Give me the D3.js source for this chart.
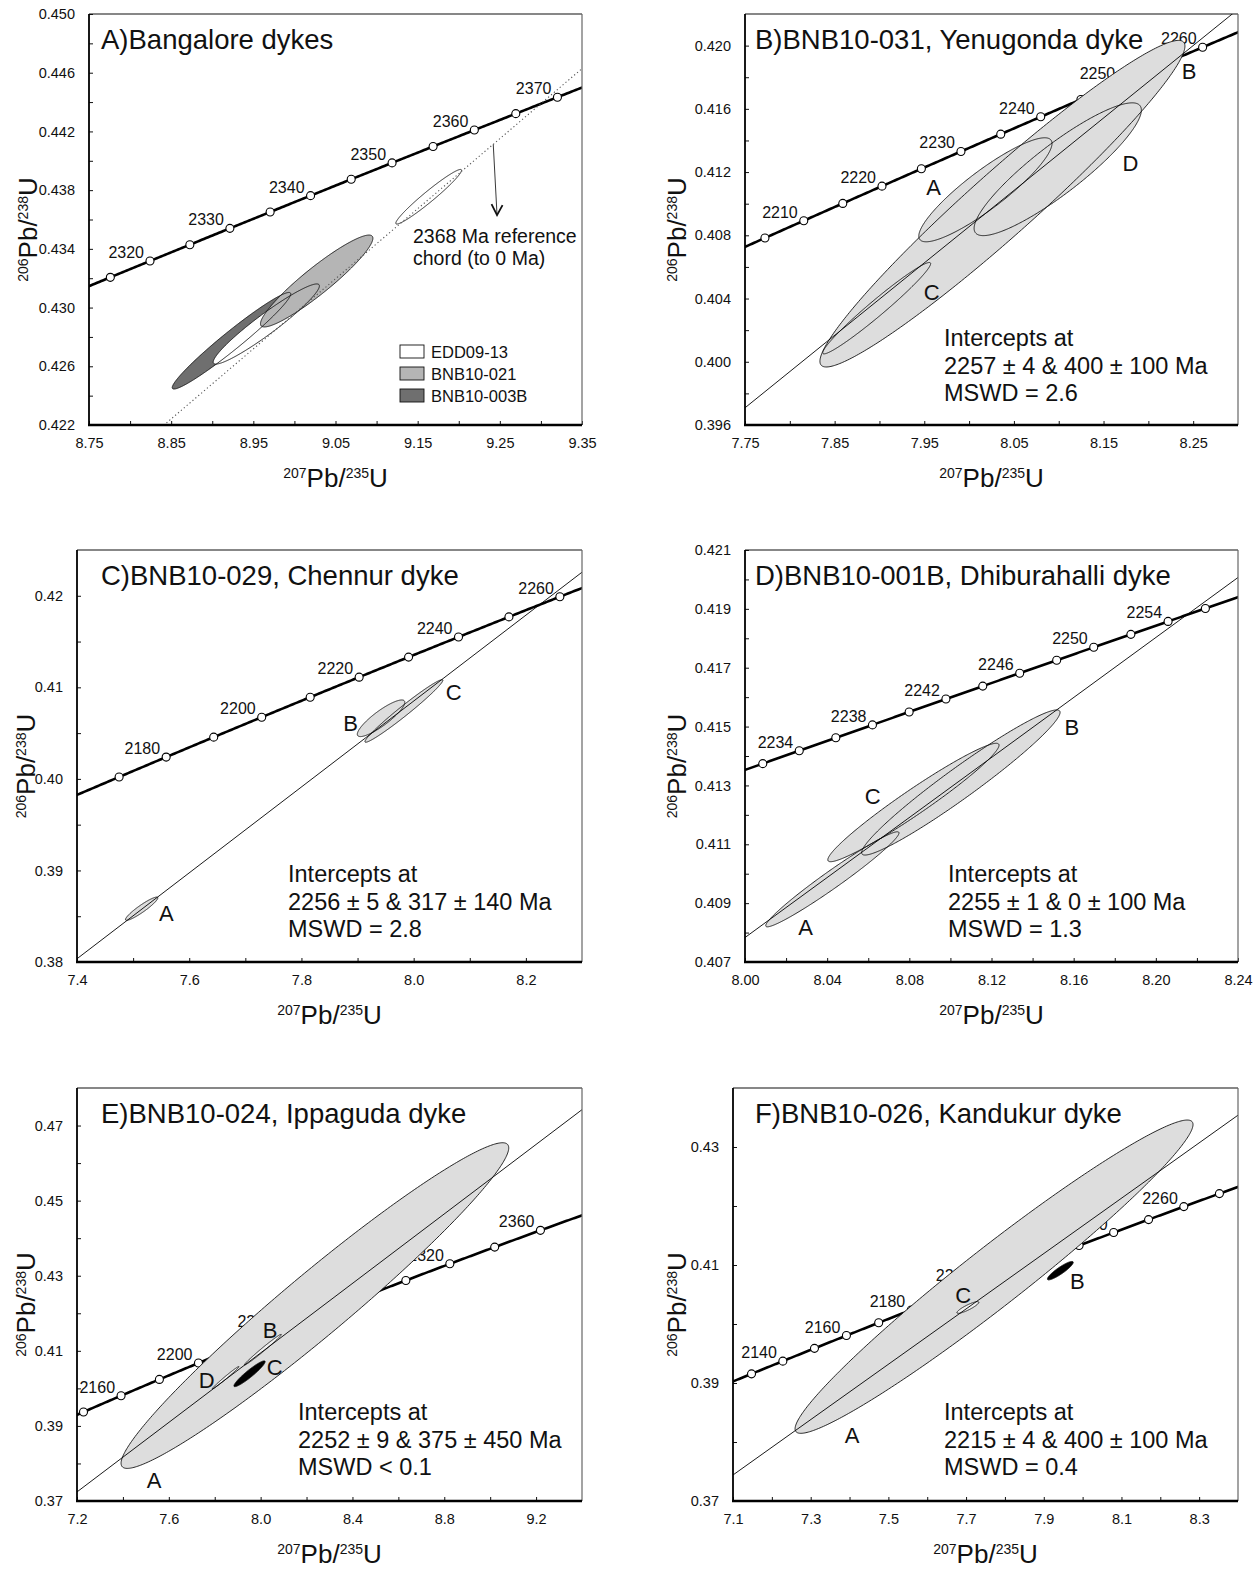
<!DOCTYPE html>
<html>
<head>
<meta charset="utf-8">
<script src="https://cdn.jsdelivr.net/npm/d3@7"></script>
<style>
body { margin: 0; background: #fff; }
svg text { font-family: "Liberation Sans", Arial, Helvetica, sans-serif; fill: #111; }
</style>
</head>
<body>
<svg id="fig" width="1260" height="1571"></svg>
<script>
// decay constants (1/yr) - define the concordia reference curve
var lambda235 = 9.8485e-10, lambda238 = 1.55125e-10;

var titles = ["A)Bangalore dykes", "B)BNB10-031, Yenugonda dyke", "C)BNB10-029, Chennur dyke",
              "D)BNB10-001B, Dhiburahalli dyke", "E)BNB10-024, Ippaguda dyke", "F)BNB10-026, Kandukur dyke"];

var xDomains = [[8.75, 9.35], [7.75, 8.30], [7.4, 8.3], [8.00, 8.24], [7.2, 9.4], [7.1, 8.4]];
var yDomains = [[0.422, 0.450], [0.396, 0.422], [0.38, 0.425], [0.407, 0.421], [0.37, 0.48], [0.37, 0.44]];

var xTicks = [
  [8.75, 8.85, 8.95, 9.05, 9.15, 9.25, 9.35],
  [7.75, 7.85, 7.95, 8.05, 8.15, 8.25],
  [7.4, 7.6, 7.8, 8.0, 8.2],
  [8.00, 8.04, 8.08, 8.12, 8.16, 8.20, 8.24],
  [7.2, 7.6, 8.0, 8.4, 8.8, 9.2],
  [7.1, 7.3, 7.5, 7.7, 7.9, 8.1, 8.3]
];
var yTicks = [
  [0.422, 0.426, 0.430, 0.434, 0.438, 0.442, 0.446, 0.450],
  [0.396, 0.400, 0.404, 0.408, 0.412, 0.416, 0.420],
  [0.38, 0.39, 0.40, 0.41, 0.42],
  [0.407, 0.409, 0.411, 0.413, 0.415, 0.417, 0.419, 0.421],
  [0.37, 0.39, 0.41, 0.43, 0.45, 0.47],
  [0.37, 0.39, 0.41, 0.43]
];
var xDecimals = [2, 2, 1, 2, 1, 1];
var yDecimals = [3, 3, 2, 3, 2, 2];

// concordia age marks (Ma)
var markAges = [
  [2315, 2320, 2325, 2330, 2335, 2340, 2345, 2350, 2355, 2360, 2365, 2370],
  [2205, 2210, 2215, 2220, 2225, 2230, 2235, 2240, 2245, 2250, 2255, 2260],
  [2170, 2180, 2190, 2200, 2210, 2220, 2230, 2240, 2250, 2260],
  [2232, 2234, 2236, 2238, 2240, 2242, 2244, 2246, 2248, 2250, 2252, 2254, 2256],
  [2140, 2160, 2180, 2200, 2220, 2240, 2260, 2280, 2300, 2320, 2340, 2360],
  [2130, 2140, 2150, 2160, 2170, 2180, 2190, 2200, 2210, 2220, 2230, 2240, 2250, 2260, 2270]
];
var labelAges = [
  [2320, 2330, 2340, 2350, 2360, 2370],
  [2210, 2220, 2230, 2240, 2250, 2260],
  [2180, 2200, 2220, 2240, 2260],
  [2234, 2238, 2242, 2246, 2250, 2254],
  [2160, 2200, 2240, 2280, 2320, 2360],
  [2140, 2160, 2180, 2200, 2220, 2240, 2260]
];

// discordia intercepts (Ma): upper, lower
var chordAges = [[2368, 0], [2257, 400], [2256, 317], [2255, 0], [2252, 375], [2215, 400]];

var interceptText = [
  null,
  ["Intercepts at", "2257 \u00b1 4 & 400 \u00b1 100 Ma", "MSWD = 2.6"],
  ["Intercepts at", "2256 \u00b1 5 & 317 \u00b1 140 Ma", "MSWD = 2.8"],
  ["Intercepts at", "2255 \u00b1 1 & 0 \u00b1 100 Ma", "MSWD = 1.3"],
  ["Intercepts at", "2252 \u00b1 9 & 375 \u00b1 450 Ma", "MSWD < 0.1"],
  ["Intercepts at", "2215 \u00b1 4 & 400 \u00b1 100 Ma", "MSWD = 0.4"]
];

// error ellipses: centre, half extents, correlation
var ellipsesA = [
  {name: "BNB10-003B", x: 8.9234, y: 0.42774, sx: 0.0721, sy: 0.00329, rho: 0.97},
  {name: "EDD09-13",   x: 8.9658, y: 0.42888, sx: 0.0646, sy: 0.00273, rho: 0.95},
  {name: "BNB10-021",  x: 9.0271, y: 0.43181, sx: 0.0684, sy: 0.00313, rho: 0.93},
  {name: "EDD09-13",   x: 9.1634, y: 0.43755, sx: 0.0400, sy: 0.00186, rho: 0.968}
];
var ellipsesB = [
  {name: "B", x: 8.0372, y: 0.41000, sx: 0.2036, sy: 0.01033, rho: 0.965},
  {name: "D", x: 8.0989, y: 0.41218, sx: 0.0933, sy: 0.00420, rho: 0.89},
  {name: "A", x: 8.0182, y: 0.41088, sx: 0.0743, sy: 0.00329, rho: 0.89},
  {name: "C", x: 7.8969, y: 0.40339, sx: 0.0602, sy: 0.00289, rho: 0.975}
];
var ellipsesC = [
  {name: "A", x: 7.5152, y: 0.38582, sx: 0.0288, sy: 0.00127, rho: 0.93},
  {name: "B", x: 7.9419, y: 0.40662, sx: 0.0423, sy: 0.00200, rho: 0.87},
  {name: "C", x: 7.9826, y: 0.40742, sx: 0.0694, sy: 0.00342, rho: 0.98}
];
var ellipsesD = [
  {name: "A", x: 8.04253, y: 0.40981, sx: 0.03243, sy: 0.001615, rho: 0.975},
  {name: "B", x: 8.10508, y: 0.41310, sx: 0.04830, sy: 0.002466, rho: 0.966},
  {name: "C", x: 8.08199, y: 0.41242, sx: 0.04167, sy: 0.002012, rho: 0.967}
];
var ellipsesE = [
  {name: "A", x: 8.2364, y: 0.42205, sx: 0.8444, sy: 0.04337, rho: 0.968},
  {name: "B", x: 8.0096, y: 0.41030, sx: 0.0803, sy: 0.00409, rho: 0.99},
  {name: "D", x: 7.8473, y: 0.40283, sx: 0.0579, sy: 0.00298, rho: 0.99},
  {name: "C", x: 7.9516, y: 0.40389, sx: 0.0679, sy: 0.00343, rho: 0.94}
];
var ellipsesF = [
  {name: "A", x: 7.7720, y: 0.40802, sx: 0.5122, sy: 0.02655, rho: 0.971},
  {name: "C", x: 7.7046, y: 0.40280, sx: 0.0281, sy: 0.00099, rho: 0.88},
  {name: "B", x: 7.9426, y: 0.40904, sx: 0.0332, sy: 0.00156, rho: 0.90}
];
var ellipses = [ellipsesA, ellipsesB, ellipsesC, ellipsesD, ellipsesE, ellipsesF];

var legendNames = ["EDD09-13", "BNB10-021", "BNB10-003B"];

// ---- layout / style ----
var boxes = [ // plot area [left, top, right, bottom]
  [89, 14, 582, 425], [745, 14, 1238, 425],
  [77, 550, 582, 962], [745, 550, 1238, 962],
  [77, 1088, 582, 1501], [733, 1088, 1238, 1501]
];
var yLabelX = [37, 686, 35, 686, 35, 686];
var titleX = [101, 755, 101, 755, 101, 755];
var interceptX = [0, 944, 288, 948, 298, 944];

var sampleFill = {"EDD09-13": "#ffffff", "BNB10-021": "#b5b5b5", "BNB10-003B": "#6f6f6f"};
var fillOverride = {4: {C: "#000", B: "#f0f0f0", D: "#f0f0f0"}, 5: {B: "#000", C: "#f0f0f0"}};

// letter labels next to ellipses (data coords)
var ellipseLabels = [
  [],
  [["A", 7.9604, 0.41102], ["B", 8.2454, 0.41838], ["C", 7.9582, 0.40440], ["D", 8.1801, 0.41260]],
  [["A", 7.5592, 0.38535], ["B", 7.8877, 0.40607], ["C", 8.0713, 0.40946]],
  [["A", 8.02945, 0.40819], ["B", 8.15916, 0.41499], ["C", 8.06217, 0.41265]],
  [["A", 7.5361, 0.37569], ["B", 8.0410, 0.41555], ["C", 8.0609, 0.40576], ["D", 7.7646, 0.40221]],
  [["A", 7.4064, 0.38116], ["B", 7.9865, 0.40722], ["C", 7.6923, 0.40496]]
];

var svg = d3.select("#fig");

function concordia(t) {
  var yr = t * 1e6;
  return [Math.exp(lambda235 * yr) - 1, Math.exp(lambda238 * yr) - 1];
}

function ellipsePath(e, x, y) {
  var r2 = Math.sqrt(1 - e.rho * e.rho);
  var pts = d3.range(0, 360, 1).map(function(a) {
    var t = a * Math.PI / 180;
    return [x(e.x + e.sx * Math.cos(t)), y(e.y + e.sy * (e.rho * Math.cos(t) + r2 * Math.sin(t)))];
  });
  return d3.line().curve(d3.curveLinearClosed)(pts);
}

function minors(ticks, dom) {
  var out = [], step = ticks[1] - ticks[0];
  for (var k = 0; k < ticks.length; k++) {
    var m = ticks[k] + step / 2;
    if (m < dom[1] - step * 0.01) out.push(m);
  }
  return out;
}

function isoLabel(sel, a, b) {
  sel.append("tspan").attr("font-size", 14).attr("dy", -9).text(a);
  sel.append("tspan").attr("font-size", 26).attr("dy", 9).text("Pb/");
  sel.append("tspan").attr("font-size", 14).attr("dy", -9).text(b);
  sel.append("tspan").attr("font-size", 26).attr("dy", 9).text("U");
}

for (var i = 0; i < 6; i++) drawPanel(i);

function drawPanel(i) {
  var b = boxes[i];
  var x = d3.scaleLinear().domain(xDomains[i]).range([b[0], b[2]]);
  var y = d3.scaleLinear().domain(yDomains[i]).range([b[3], b[1]]);
  var g = svg.append("g");

  g.append("clipPath").attr("id", "clip" + i)
    .append("rect").attr("x", b[0]).attr("y", b[1]).attr("width", b[2] - b[0]).attr("height", b[3] - b[1]);
  var plot = g.append("g").attr("clip-path", "url(#clip" + i + ")");

  // concordia curve
  var t0 = Math.log(1 + xDomains[i][0]) / lambda235 / 1e6 - 10;
  var t1 = Math.log(1 + xDomains[i][1]) / lambda235 / 1e6 + 10;
  var curve = d3.range(0, 301).map(function(k) { return concordia(t0 + (t1 - t0) * k / 300); });
  plot.append("path").datum(curve)
    .attr("d", d3.line().x(function(d) { return x(d[0]); }).y(function(d) { return y(d[1]); }))
    .attr("fill", "none").attr("stroke", "#000").attr("stroke-width", 2.6);

  plot.selectAll(".mark").data(markAges[i]).enter().append("circle")
    .attr("class", "mark")
    .attr("cx", function(d) { return x(concordia(d)[0]); })
    .attr("cy", function(d) { return y(concordia(d)[1]); })
    .attr("r", 4).attr("fill", "#fff").attr("stroke", "#000").attr("stroke-width", 1.1);

  g.selectAll(".age").data(labelAges[i]).enter().append("text")
    .attr("class", "age")
    .attr("x", function(d) { return x(concordia(d)[0]) - 6; })
    .attr("y", function(d) { return y(concordia(d)[1]) - 3; })
    .attr("text-anchor", "end").attr("font-size", 16)
    .text(function(d) { return d; });

  // ellipses: fills, then outlines
  var eg = g.append("g").attr("clip-path", "url(#clip" + i + ")");
  var ov = fillOverride[i] || {};
  eg.selectAll(".ef").data(ellipses[i]).enter().append("path")
    .attr("d", function(e) { return ellipsePath(e, x, y); })
    .attr("fill", function(e) {
      if (i === 0) return sampleFill[e.name];
      return ov[e.name] || "#dddddd";
    })
    .attr("stroke", "none");
  eg.selectAll(".eo").data(ellipses[i]).enter().append("path")
    .attr("d", function(e) { return ellipsePath(e, x, y); })
    .attr("fill", "none").attr("stroke", "#111").attr("stroke-width", 0.9);

  // chord
  var up = concordia(chordAges[i][0]), lo = concordia(chordAges[i][1]);
  var slope = (up[1] - lo[1]) / (up[0] - lo[0]);
  var cl = [xDomains[i][0] - 0.05, xDomains[i][1] + 0.05].map(function(v) { return [v, up[1] + slope * (v - up[0])]; });
  eg.append("line")
    .attr("x1", x(cl[0][0])).attr("y1", y(cl[0][1]))
    .attr("x2", x(cl[1][0])).attr("y2", y(cl[1][1]))
    .attr("stroke", i === 0 ? "#555" : "#000")
    .attr("stroke-width", i === 0 ? 1.1 : 0.9)
    .attr("stroke-dasharray", i === 0 ? "1.2,2.6" : null);

  // ellipse letters
  g.selectAll(".el").data(ellipseLabels[i]).enter().append("text")
    .attr("x", function(d) { return x(d[1]); })
    .attr("y", function(d) { return y(d[2]); })
    .attr("dy", "0.36em").attr("text-anchor", "middle").attr("font-size", 22)
    .text(function(d) { return d[0]; });

  // axes (ticks point inward)
  var fx = d3.format("." + xDecimals[i] + "f"), fy = d3.format("." + yDecimals[i] + "f");
  g.append("g").attr("transform", "translate(0," + b[3] + ")")
    .call(d3.axisBottom(x).tickValues(xTicks[i]).tickFormat(fx).tickSizeInner(-4).tickSizeOuter(0).tickPadding(13));
  g.append("g").attr("transform", "translate(0," + b[3] + ")")
    .call(d3.axisBottom(x).tickValues(minors(xTicks[i], xDomains[i])).tickFormat("").tickSizeInner(-4).tickSizeOuter(0));
  g.append("g").attr("transform", "translate(" + b[0] + ",0)")
    .call(d3.axisLeft(y).tickValues(yTicks[i]).tickFormat(fy).tickSizeInner(-4).tickSizeOuter(0).tickPadding(14));
  g.append("g").attr("transform", "translate(" + b[0] + ",0)")
    .call(d3.axisLeft(y).tickValues(minors(yTicks[i], yDomains[i])).tickFormat("").tickSizeInner(-4).tickSizeOuter(0));
  g.selectAll(".domain").remove();
  g.selectAll(".tick line").attr("stroke", "#111").attr("stroke-width", 1);
  g.selectAll(".tick text").attr("font-size", 14.5).attr("font-family", null).attr("fill", "#111");

  // frame
  g.append("line").attr("x1", b[0]).attr("x2", b[2]).attr("y1", b[1]).attr("y2", b[1]).attr("stroke", "#111").attr("stroke-width", 1.2);
  g.append("line").attr("x1", b[2]).attr("x2", b[2]).attr("y1", b[1]).attr("y2", b[3]).attr("stroke", "#666").attr("stroke-width", 1.2);
  g.append("line").attr("x1", b[0]).attr("x2", b[0]).attr("y1", b[1]).attr("y2", b[3] + 1).attr("stroke", "#000").attr("stroke-width", 1.8);
  g.append("line").attr("x1", b[0] - 1).attr("x2", b[2]).attr("y1", b[3]).attr("y2", b[3]).attr("stroke", "#000").attr("stroke-width", 2.4);

  // titles and axis labels
  g.append("text").attr("x", titleX[i]).attr("y", b[1] + 35).attr("font-size", 27.5).text(titles[i]);
  isoLabel(g.append("text").attr("text-anchor", "middle")
    .attr("transform", "translate(" + yLabelX[i] + "," + ((b[1] + b[3]) / 2 + 10) + ") rotate(-90)"), "206", "238");
  isoLabel(g.append("text").attr("text-anchor", "middle")
    .attr("x", (b[0] + b[2]) / 2).attr("y", b[3] + 62), "207", "235");

  if (interceptText[i]) {
    g.selectAll(".ic").data(interceptText[i]).enter().append("text")
      .attr("x", interceptX[i])
      .attr("y", function(d, k) { return b[1] + 332 + k * 27.5; })
      .attr("font-size", 23.5).text(function(d) { return d; });
  }

  if (i === 0) {
    // arrow from the reference chord and its note
    var ax0 = 9.242, ax1 = 9.2466, ay1 = 0.4363;
    var sx0 = x(ax0), sy0 = y(slope * ax0), ex = x(ax1), ey = y(ay1);
    g.append("line").attr("x1", sx0).attr("y1", sy0).attr("x2", ex).attr("y2", ey)
      .attr("stroke", "#222").attr("stroke-width", 0.9);
    g.append("path").attr("d", "M" + (ex - 5.5) + "," + (ey - 11) + "L" + ex + "," + ey + "L" + (ex + 5.5) + "," + (ey - 10))
      .attr("fill", "none").attr("stroke", "#111").attr("stroke-width", 1.8);
    g.append("text").attr("x", 413).attr("y", 243).attr("font-size", 19.5).text("2368 Ma reference");
    g.append("text").attr("x", 413).attr("y", 265).attr("font-size", 19.5).text("chord (to 0 Ma)");

    var lg = g.append("g");
    legendNames.forEach(function(n, k) {
      lg.append("rect").attr("x", 400).attr("y", 345 + k * 22).attr("width", 24).attr("height", 13)
        .attr("fill", sampleFill[n]).attr("stroke", "#111").attr("stroke-width", 0.9);
      lg.append("text").attr("x", 431).attr("y", 357.5 + k * 22).attr("font-size", 16.5).text(n);
    });
  }
}
</script>
</body>
</html>
